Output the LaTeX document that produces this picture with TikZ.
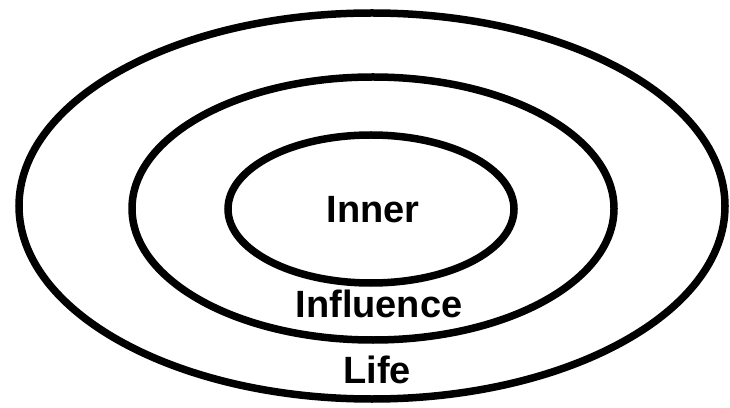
\documentclass[tikz,border=0pt]{standalone}
\usepackage{fontspec}
\setmainfont{Liberation Sans}
\usepackage{tikz}

\begin{document}
\begin{tikzpicture}[
  x=1pt, y=1pt,
  ring/.style={draw=black, line width=7.5pt},
  label/.style={
    anchor=base,
    inner sep=0pt,
    font=\fontsize{38}{42}\selectfont\bfseries
  }
]
\useasboundingbox (0,0) rectangle (730,407);

% Cercles concentriques
\draw[ring] (372,201) ellipse [x radius=353, y radius=193];
\draw[ring] (373,198.5) ellipse [x radius=241, y radius=131.5];
\draw[ring] (371,198) ellipse [x radius=143, y radius=74];

% Etiquettes
\node[label] (inner) at (373,184) {Inner};
\node[label] (influence) at (379,90) {Influence};
\node[label] (life) at (377,24) {Life};
\end{tikzpicture}
\end{document}
